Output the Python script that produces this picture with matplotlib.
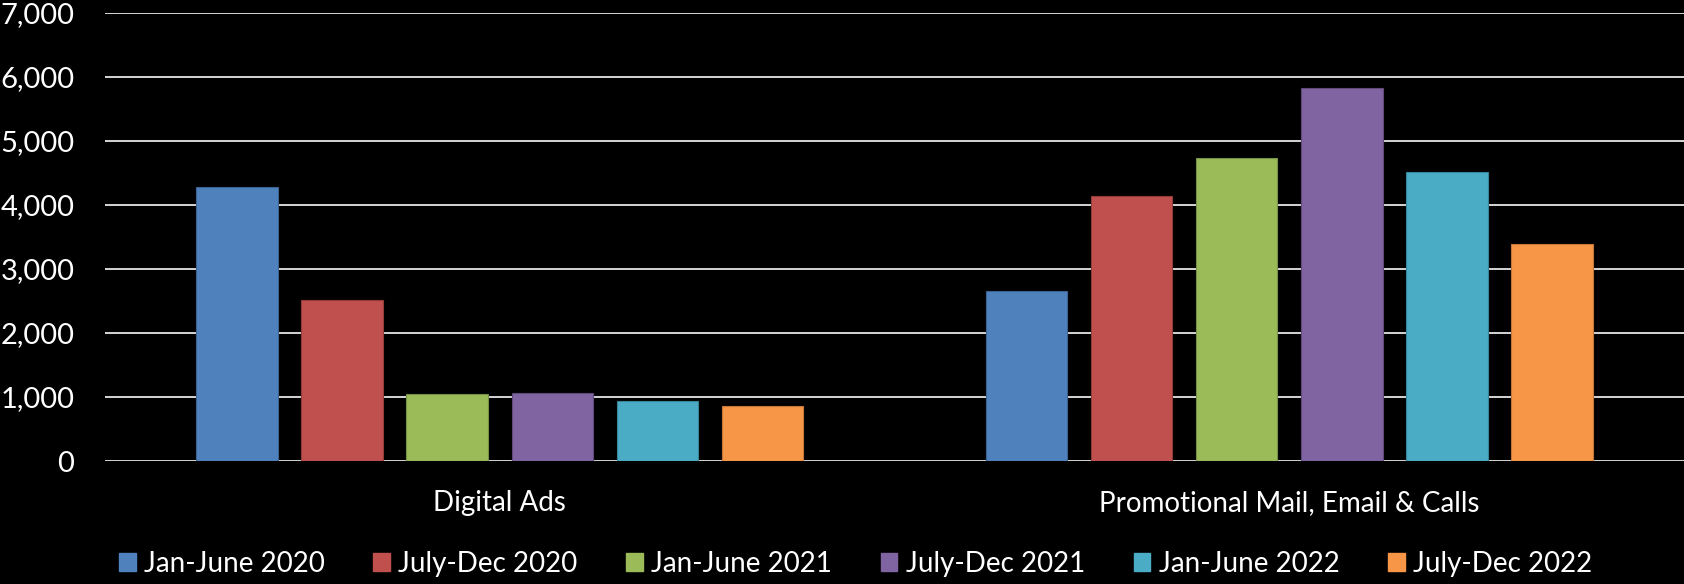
import numpy as np
import matplotlib.pyplot as plt
from matplotlib.patches import Patch
from matplotlib.ticker import FuncFormatter

# ===========================================================================
# data
categories = ['Digital Ads', 'Promotional Mail, Email & Calls']
periods = ['Jan-June 2020', 'July-Dec 2020', 'Jan-June 2021',
           'July-Dec 2021', 'Jan-June 2022', 'July-Dec 2022']

digital_ads = [4280, 2520, 1050, 1060, 930, 860]
promo_mail = [2650, 4135, 4730, 5835, 4510, 3390]

colors = ['#4F81BD', '#C0504D', '#9BBB59', '#8064A2', '#4BACC6', '#F79646']
edges = ['#3B6290', '#933C3A', '#76914A', '#5F4A7B', '#38849A', '#C5763A']

# ===========================================================================
plt.rcParams['font.family'] = ['Lato', 'DejaVu Sans']

fig = plt.figure(figsize=(16.84, 5.84), dpi=100, facecolor='black')
ax = fig.add_axes([105 / 1684, 123 / 584, 1 - 105 / 1684, 448 / 584])
ax.set_facecolor('black')

x = np.arange(len(categories))
step = 0.1332
width = 0.1033
for i, name in enumerate(periods):
    vals = [digital_ads[i], promo_mail[i]]
    ax.bar(x + (i - 2.5) * step, vals, width, color=colors[i],
           edgecolor=edges[i], linewidth=0.8, zorder=3, label=name)

ax.set_xlim(-0.5, 1.5)
ax.set_ylim(0, 7000)
ax.set_yticks(range(0, 7001, 1000))
ax.yaxis.set_major_formatter(FuncFormatter(lambda v, p: f'{int(v):,}'))
ax.set_xticks(x)
ax.set_xticklabels(categories)

ax.grid(axis='y', color='#e6e6e6', linewidth=1.3, zorder=0)
ax.tick_params(axis='y', length=0, pad=22, labelsize=21, labelcolor='white')
ax.tick_params(axis='x', length=0, pad=21, labelsize=20, labelcolor='white')
for s in ax.spines.values():
    s.set_visible(False)

# ===========================================================================
# legend along the bottom
handles = [Patch(facecolor=c, edgecolor=c) for c in colors]
fig.legend(handles, periods, loc='lower center', bbox_to_anchor=(0.508, -0.03),
           ncol=6, frameon=False, fontsize=20, labelcolor='white',
           handlelength=0.6, handleheight=0.6, handletextpad=0.3,
           columnspacing=1.75)

fig.savefig('out.png', dpi=100, facecolor='black')
